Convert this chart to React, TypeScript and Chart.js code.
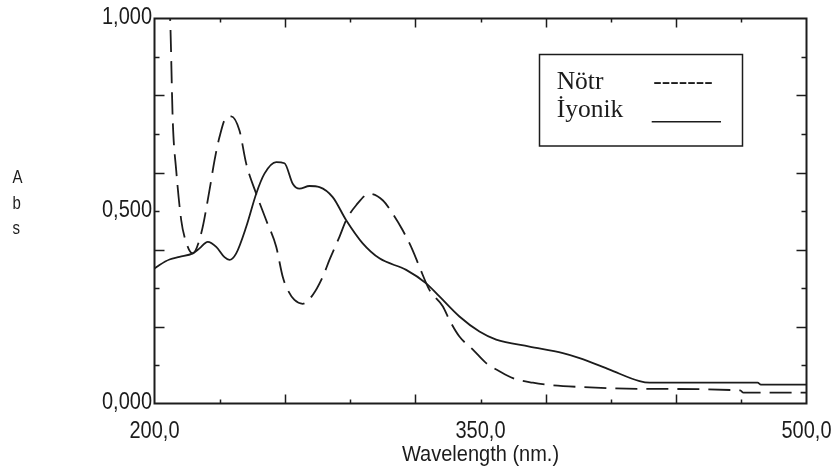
import React, { useEffect, useRef } from "react";
import { Chart, registerables } from "chart.js";

Chart.register(...registerables);

// ---- Data ----
const notrWavelengths = [
  206.5, 207.2, 208.4, 210, 212.3, 213.8, 217.5, 221.5, 225.3, 227.6, 229.9, 233, 235.3, 239.1,
  242.2, 246.8, 251.4, 256, 259, 261.3, 264.4, 268.2, 272.8, 277.4, 280.5, 285.1, 288.2,
  292.8, 298.9, 305, 309.6, 314.2, 318.8, 321.9, 326.5, 332.7, 335.7, 340.3, 346.5, 352.6,
  358.7, 364.9, 374.1, 380.2, 395.6, 423.2, 469.5, 471, 500,
];
const notrValues = [
  1.05, 1.0, 0.735, 0.605, 0.476, 0.433, 0.39, 0.442, 0.554, 0.631, 0.692, 0.743, 0.746, 0.709,
  0.623, 0.545, 0.476, 0.407, 0.329, 0.295, 0.269, 0.259, 0.282, 0.329, 0.373, 0.433, 0.476,
  0.515, 0.545, 0.528, 0.493, 0.45, 0.398, 0.355, 0.295, 0.252, 0.217, 0.174, 0.14, 0.105,
  0.084, 0.066, 0.054, 0.049, 0.043, 0.038, 0.034, 0.028, 0.028,
];

const iyonikWavelengths = [
  200, 202.3, 206.9, 211.5, 217.6, 220.7, 224.5, 228.4, 232.2, 234.5, 237.6, 242.2, 246.8,
  250.6, 256, 259.8, 263.6, 266.7, 271.3, 275.9, 282, 288.2, 295.8, 303.5, 315.8, 325, 331.1,
  340.3, 349.5, 357.2, 372.5, 387.9, 395.6, 409.4, 423.2, 427.8, 477.5, 479, 500,
];
const iyonikValues = [
  0.351, 0.36, 0.374, 0.381, 0.39, 0.403, 0.42, 0.407, 0.38, 0.373, 0.39, 0.459, 0.545, 0.597,
  0.627, 0.624, 0.571, 0.558, 0.565, 0.562, 0.536, 0.476, 0.416, 0.377, 0.347, 0.312, 0.278,
  0.226, 0.187, 0.166, 0.148, 0.131, 0.118, 0.088, 0.058, 0.054, 0.054, 0.049, 0.049,
];

const xMin = 200;
const xMax = 500;
const yMin = 0;
const yMax = 1;
const xTickValues = [230, 260, 290, 320, 350, 380, 410, 440, 470];
const yTickValues = [0.1, 0.2, 0.3, 0.4, 0.5, 0.6, 0.7, 0.8, 0.9];
const xTickLabels = [
  { value: 200, text: "200,0" },
  { value: 350, text: "350,0" },
  { value: 500, text: "500,0" },
];
const yTickLabels = [
  { value: 1, text: "1,000" },
  { value: 0.5, text: "0,500" },
  { value: 0, text: "0,000" },
];
const xTitle = "Wavelength (nm.)";
const yTitleChars = ["A", "b", "s"];
const legendLabels = ["Nötr", "İyonik"];

const INK = "#1c1c1c";
const SANS = "Liberation Sans, Arial, sans-serif";
const SERIF = "Liberation Serif, Times New Roman, serif";

function scaledText(
  ctx: CanvasRenderingContext2D,
  text: string,
  x: number,
  baseline: number,
  align: CanvasTextAlign,
  font: string,
  sy: number
) {
  ctx.save();
  ctx.translate(x, baseline);
  ctx.scale(1, sy);
  ctx.font = font;
  ctx.textAlign = align;
  ctx.textBaseline = "alphabetic";
  ctx.fillStyle = INK;
  ctx.fillText(text, 0, 0);
  ctx.restore();
}

const framePlugin = {
  id: "spectrumFrame",
  afterDatasetsDraw(chart: any) {
    const ctx: CanvasRenderingContext2D = chart.ctx;
    const xs = chart.scales.x;
    const ys = chart.scales.y;
    const { left, right, top, bottom } = chart.chartArea;

    ctx.save();
    ctx.strokeStyle = INK;
    ctx.lineWidth = 2;
    ctx.strokeRect(left, top, right - left, bottom - top);

    // ticks (inward, all four sides)
    ctx.lineWidth = 1.5;
    ctx.beginPath();
    xTickValues.forEach((v) => {
      const px = Math.round(xs.getPixelForValue(v)) + 0.5;
      const len = (v - xMin) % 60 === 0 ? 9 : 4;
      ctx.moveTo(px, bottom);
      ctx.lineTo(px, bottom - len);
      ctx.moveTo(px, top);
      ctx.lineTo(px, top + len);
    });
    yTickValues.forEach((v) => {
      const py = Math.round(ys.getPixelForValue(v)) + 0.5;
      const even = Math.round(v * 10) % 2 === 0;
      const len = even ? 10 : 5;
      ctx.moveTo(left, py);
      ctx.lineTo(left + len, py);
      ctx.moveTo(right, py);
      ctx.lineTo(right - len, py);
    });
    ctx.stroke();

    const tickFont = `20px ${SANS}`;
    yTickLabels.forEach((t) => {
      scaledText(ctx, t.text, left - 2.5, ys.getPixelForValue(t.value) + 5.8, "right", tickFont, 1.17);
    });
    xTickLabels.forEach((t) => {
      scaledText(ctx, t.text, xs.getPixelForValue(t.value), 437.5, "center", tickFont, 1.17);
    });
    scaledText(ctx, xTitle, (left + right) / 2, 460.7, "center", tickFont, 1.12);

    // y title: stacked characters
    const yBase = [183, 209, 234];
    yTitleChars.forEach((c, i) => {
      scaledText(ctx, c, 12.5, yBase[i], "left", `15px ${SANS}`, 1.17);
    });

    // legend box
    ctx.lineWidth = 1.5;
    ctx.strokeStyle = INK;
    ctx.strokeRect(539.5, 54.5, 203, 91.5);
    const lf = `25.5px ${SERIF}`;
    scaledText(ctx, legendLabels[0], 556.7, 89, "left", lf, 1);
    scaledText(ctx, legendLabels[1], 556.7, 117.3, "left", lf, 1);
    scaledText(ctx, "-------", 653.3, 89, "left", lf, 1);
    ctx.beginPath();
    ctx.lineWidth = 1.5;
    ctx.moveTo(651.7, 121.7);
    ctx.lineTo(721, 121.7);
    ctx.stroke();
    ctx.restore();
  },
};

export default function App() {
  const ref = useRef<HTMLCanvasElement | null>(null);

  useEffect(() => {
    document.body.style.margin = "0";
    const canvas = ref.current;
    if (!canvas) return;
    const chart = new Chart(canvas, {
      type: "scatter",
      data: {
        datasets: [
          {
            label: legendLabels[0],
            data: notrWavelengths.map((x, i) => ({ x, y: notrValues[i] })),
            showLine: true,
            borderColor: INK,
            borderWidth: 1.8,
            borderDash: [22, 9],
            pointRadius: 0,
            cubicInterpolationMode: "monotone",
            fill: false,
          },
          {
            label: legendLabels[1],
            data: iyonikWavelengths.map((x, i) => ({ x, y: iyonikValues[i] })),
            showLine: true,
            borderColor: INK,
            borderWidth: 1.8,
            pointRadius: 0,
            cubicInterpolationMode: "monotone",
            fill: false,
          },
        ],
      },
      options: {
        responsive: false,
        animation: false,
        devicePixelRatio: 1,
        layout: { padding: { left: 154.5, right: 29.5, top: 18.5, bottom: 68.5 } },
        scales: {
          x: { type: "linear", min: xMin, max: xMax, display: false },
          y: { type: "linear", min: yMin, max: yMax, display: false },
        },
        plugins: {
          legend: { display: false },
          tooltip: { enabled: false },
        },
      },
      plugins: [framePlugin],
    } as any);
    return () => chart.destroy();
  }, []);

  return (
    <div style={{ width: 836, height: 472 }}>
      <canvas ref={ref} width={836} height={472} style={{ display: "block" }} />
    </div>
  );
}
